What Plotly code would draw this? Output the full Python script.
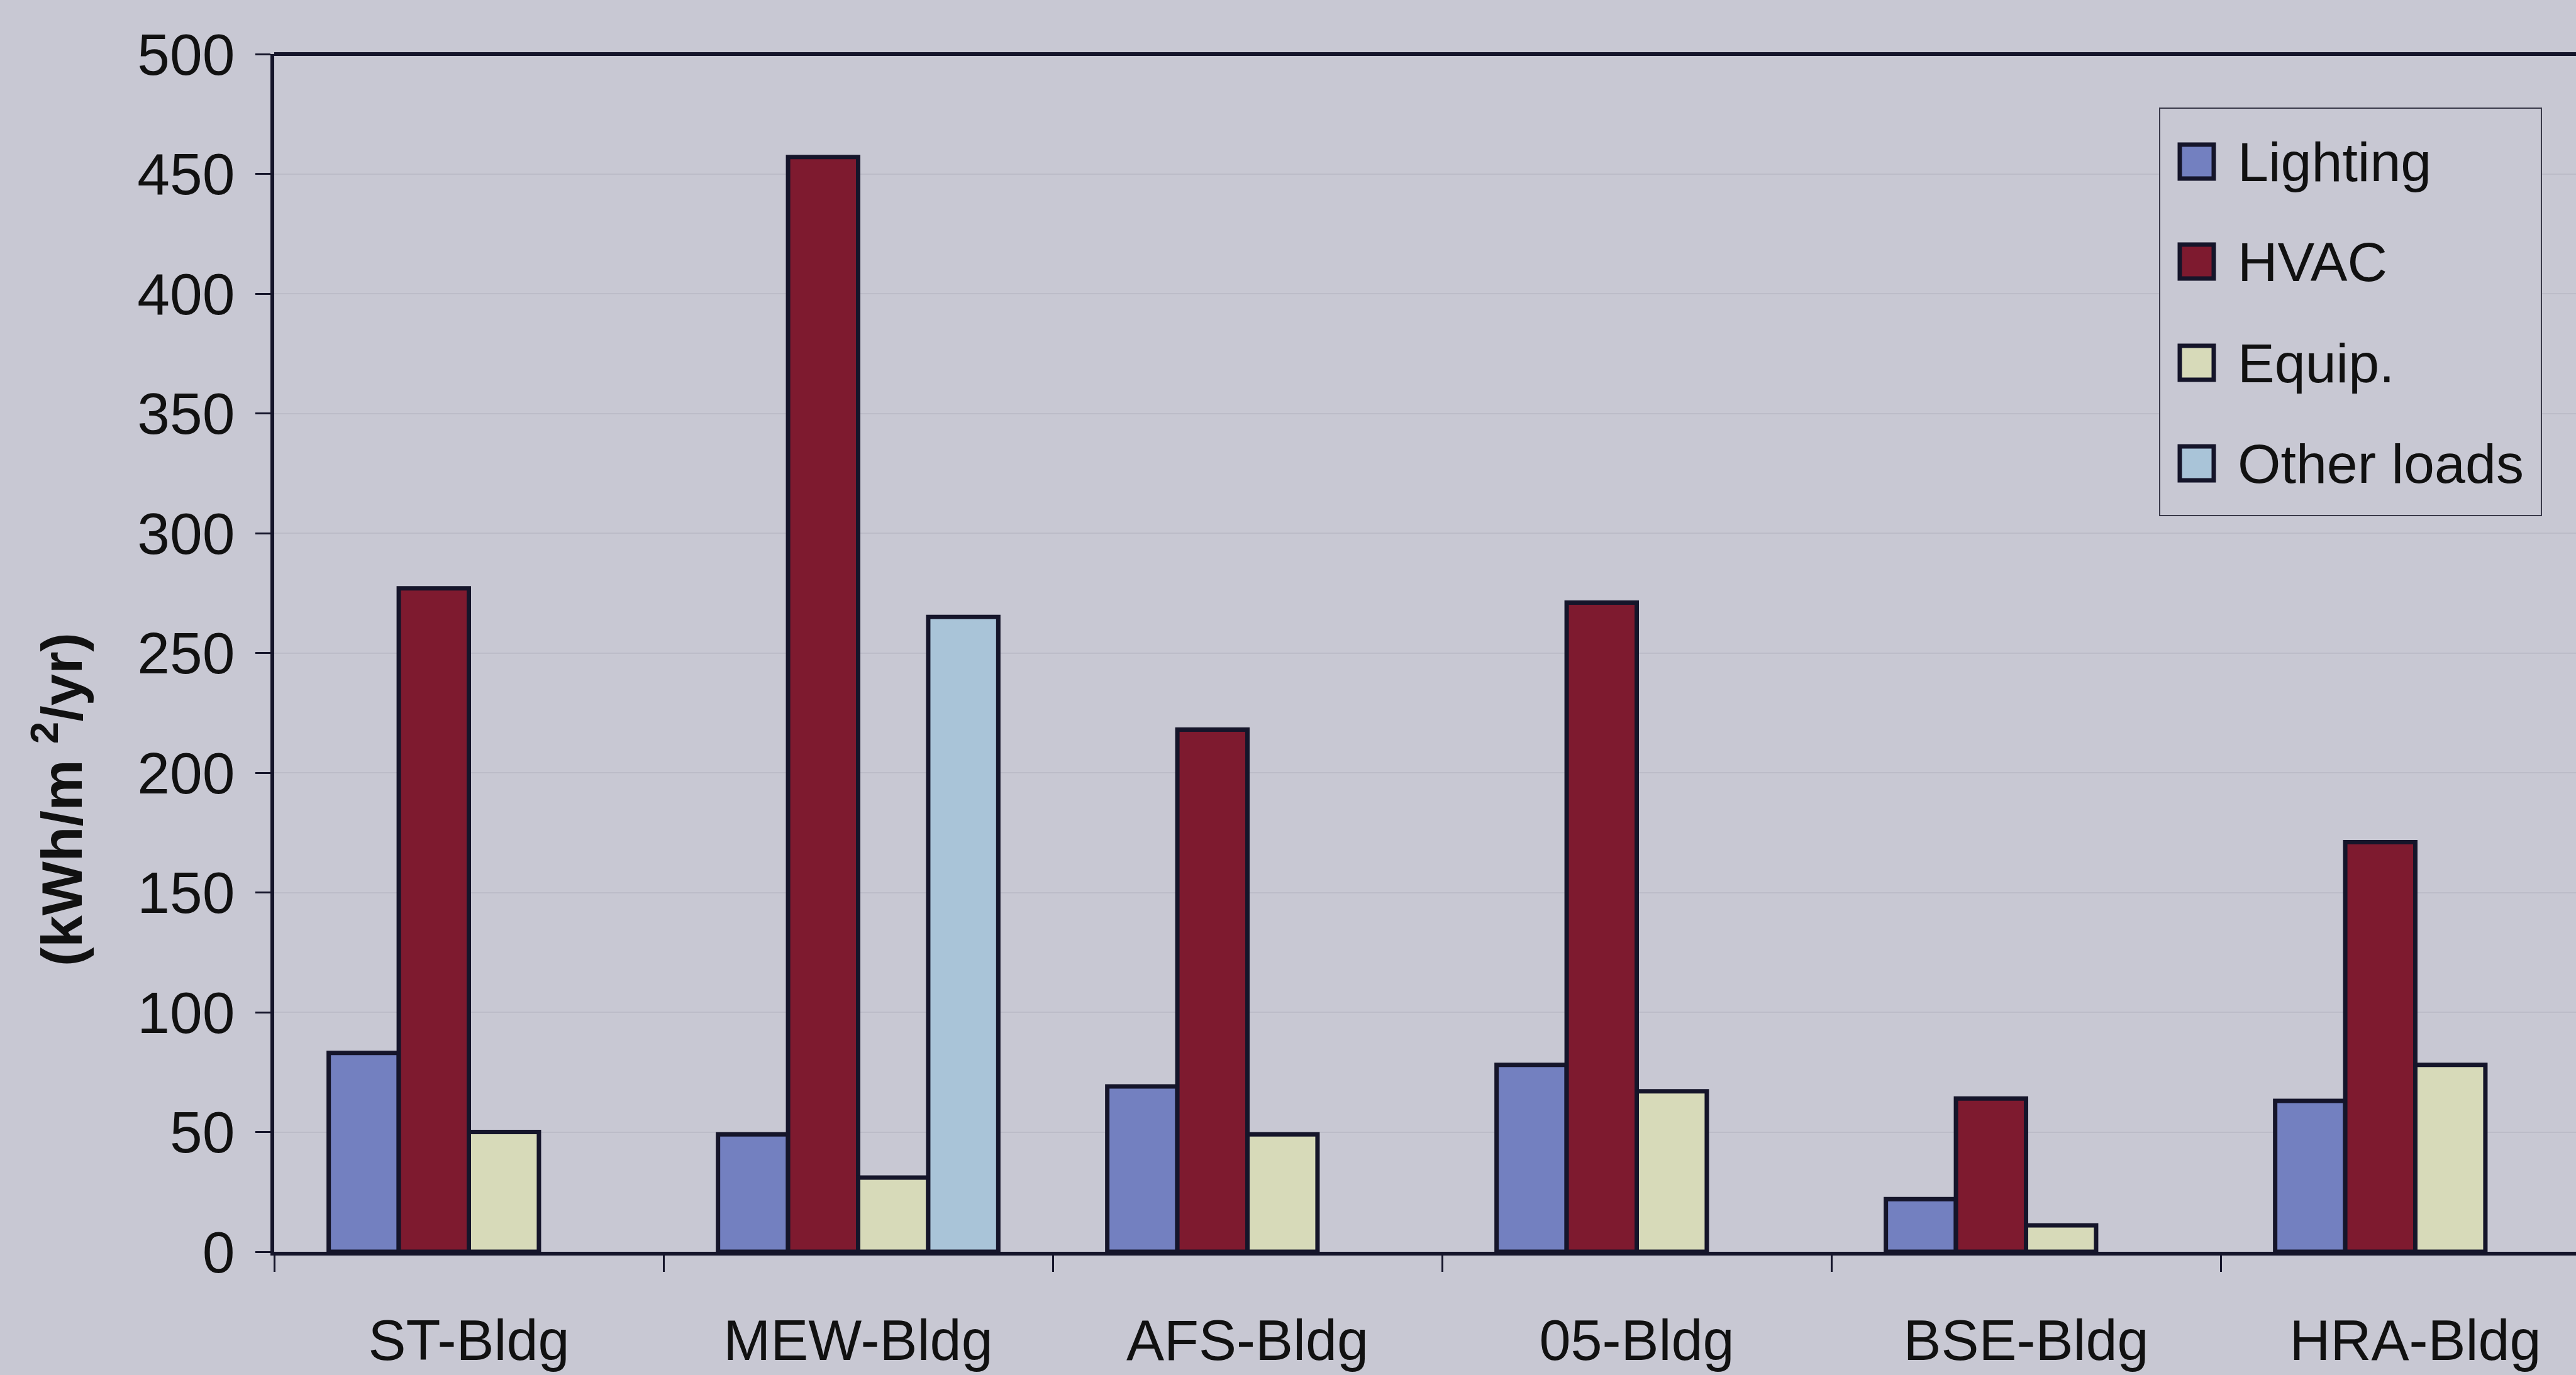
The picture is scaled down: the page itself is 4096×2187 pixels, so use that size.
import plotly.graph_objects as go

# Annual energy use intensity by end use for each building
buildings = ["ST-Bldg", "MEW-Bldg", "AFS-Bldg", "05-Bldg", "BSE-Bldg", "HRA-Bldg"]
lighting = [83, 49, 69, 78, 22, 63]
hvac = [277, 457, 218, 271, 64, 171]
equip = [50, 31, 49, 67, 11, 78]
other_loads = [None, 265, None, None, None, None]

series_names = ["Lighting", "HVAC", "Equip.", "Other loads"]
series_values = [lighting, hvac, equip, other_loads]
series_colors = ["#7380c0", "#7e1a2f", "#d7dab9", "#a9c4d8"]

y_ticks = list(range(0, 501, 50))

BG = "#c8c8d3"
INK = "#15152a"
FONT = "Liberation Sans, Arial, sans-serif"

# plot-area geometry in window pixels
FIG_W, FIG_H = 4096, 2187
L, T, B = 436, 86, 1991
W, H = FIG_W - L, B - T


def px(x):
    return (x - L) / W


def py(y):
    return (B - y) / H


fig = go.Figure()
for name, vals, col in zip(series_names, series_values, series_colors):
    fig.add_trace(go.Bar(
        name=name, x=buildings, y=vals,
        marker=dict(color=col, line=dict(color=INK, width=7)),
        showlegend=False,
    ))

shapes = [
    # top border of the plot frame
    dict(type="line", xref="paper", yref="paper", x0=0, x1=1, y0=1, y1=1,
         line=dict(color=INK, width=6)),
    # legend frame
    dict(type="rect", xref="paper", yref="paper",
         x0=px(3434), x1=px(4041), y0=py(172), y1=py(820),
         line=dict(color="#3a3a4a", width=2), fillcolor=BG, layer="above"),
]
annotations = []

legend_rows = [257, 416, 577, 737]
for name, col, yc in zip(series_names, series_colors, legend_rows):
    shapes.append(dict(type="rect", xref="paper", yref="paper",
                       x0=px(3466), x1=px(3520), y0=py(yc + 27), y1=py(yc - 27),
                       fillcolor=col, line=dict(color=INK, width=7), layer="above"))
    annotations.append(dict(text=name, xref="paper", yref="paper",
                            x=px(3556), y=py(yc), xanchor="left", yanchor="middle",
                            showarrow=False, font=dict(family=FONT, size=88, color="#111")))

annotations.append(dict(
    text="<b>(kWh/m <sup>2</sup>/yr)</b>", xref="paper", yref="paper",
    x=px(91), y=py(1272), xanchor="center", yanchor="middle", textangle=-90,
    showarrow=False, font=dict(family=FONT, size=91, color="#111"),
))

fig.update_layout(
    width=FIG_W, height=FIG_H,
    margin=dict(l=L, r=0, t=T, b=FIG_H - B, pad=0),
    paper_bgcolor=BG, plot_bgcolor=BG,
    barmode="group", bargap=0.28, bargroupgap=0,
    font=dict(family=FONT, size=88, color="#111"),
    shapes=shapes, annotations=annotations,
    showlegend=False,
)
fig.update_xaxes(
    type="category", categoryorder="array", categoryarray=buildings,
    range=[-0.5, -0.5 + W / 619.0],
    tickson="boundaries", ticks="outside", ticklen=26, tickwidth=3, tickcolor=INK,
    showline=True, linecolor=INK, linewidth=6, showgrid=False,
    tickfont=dict(family=FONT, size=90, color="#111"), ticklabelstandoff=58,
)
fig.update_yaxes(
    range=[0, 500], tickvals=y_ticks,
    ticks="outside", ticklen=24, tickwidth=3, tickcolor=INK,
    showline=True, linecolor=INK, linewidth=6,
    showgrid=True, gridcolor="#bcbcc8", gridwidth=2, zeroline=False,
    tickfont=dict(family=FONT, size=93, color="#111"), ticklabelstandoff=14,
)

fig.write_html("out.html")
